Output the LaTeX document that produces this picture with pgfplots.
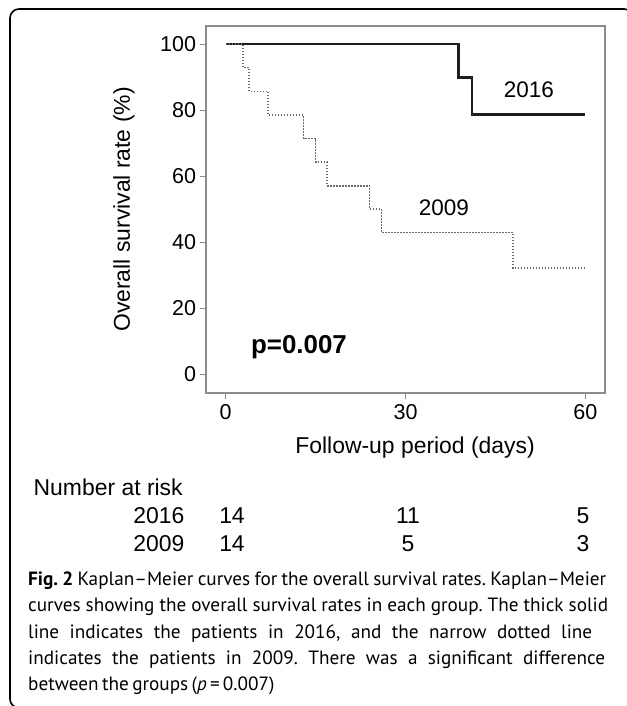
\documentclass[border=0pt]{standalone}
\usepackage{fontspec}
\setmainfont{Liberation Sans}
\newfontfamily\capfont[Ligatures=TeX]{PT Sans}
\usepackage{pgfplots}
\pgfplotsset{compat=1.18}
\frenchspacing
\begin{document}
\begin{tikzpicture}[x=1bp,y=1bp]
\useasboundingbox (0,0) rectangle (627,706);
\begin{scope}
\clip (0,0) rectangle (627,706);
\draw[line width=1.6bp, rounded corners=9bp] (10,-2) rectangle (633,697);
\end{scope}
\begin{axis}[
  at={(206bp,313bp)}, anchor=south west,
  scale only axis, width=399bp, height=367bp,
  xmin=-3.29, xmax=63.29, ymin=-5.67, ymax=105.5,
  xtick={0,30,60}, ytick={0,20,40,60,80,100},
  tick align=outside, tick pos=left,
  major tick length=6.5bp,
  axis line style={draw=black!45, line width=1.2bp},
  tick style={draw=black!45, line width=1.1bp},
  ticklabel style={font=\fontsize{21.6}{24}\selectfont, text=black},
  /pgf/number format/assume math mode=true,
  xticklabel style={yshift=-1bp},
  xlabel={Follow-up period (days)},
  ylabel={Overall survival rate (\%)},
  xlabel style={font=\fontsize{23}{26}\selectfont, anchor=base, inner sep=0pt, at={(rel axis cs:0.524,-0.1662)}},
  ylabel style={font=\fontsize{23}{26}\selectfont, anchor=center, inner sep=0pt, at={(rel axis cs:-0.2055,0.5)}},
]
\addplot[const plot, line width=2.7bp, color=black!88] coordinates {
  (0,100) (38.9,90) (41.1,78.7) (60,78.7)};
\addplot[const plot, line width=1.7bp, color=black!58, dash pattern=on 1.4bp off 1.6bp] coordinates {
  (0,100) (2.9,92.9) (3.9,85.7) (7.1,78.6) (13,71.4) (15,64.3) (16.9,57.1)
  (24,50) (26,42.9) (47.9,32.1) (60,32.1)};
\node[font=\fontsize{22.6}{26}\selectfont, inner sep=0pt] at (axis cs:50.6,86.3) {2016};
\node[font=\fontsize{22.6}{26}\selectfont, inner sep=0pt] at (axis cs:36.4,50.5) {2009};
\node[font=\fontsize{26}{30}\selectfont\bfseries, anchor=base west, inner sep=0pt] at (axis cs:4.2,6.15) {p=0.007};
\end{axis}
\begin{scope}[every node/.style={inner sep=0pt, font=\fontsize{23}{26}\selectfont}]
\node[anchor=base west] at (33.5,210) {Number at risk};
\node[anchor=base east] at (184.5,182) {2016};
\node[anchor=base east] at (184.5,154) {2009};
\node[anchor=base] at (232,182) {14};
\node[anchor=base] at (408,182) {11};
\node[anchor=base] at (583,182) {5};
\node[anchor=base] at (232,154) {14};
\node[anchor=base] at (408,154) {5};
\node[anchor=base] at (583,154) {3};
\end{scope}
\begin{scope}[every node/.style={inner sep=0pt, anchor=base west, font=\capfont\fontsize{19.3}{26}\selectfont}]
\node at (28,120) {\makebox[578bp][s]{\textbf{Fig. 2} Kaplan–Meier curves for the overall survival rates. Kaplan–Meier}};
\node at (28,94) {\makebox[580bp][s]{curves showing the overall survival rates in each group. The thick solid}};
\node at (28,67.7) {\makebox[564bp][s]{line indicates the patients in 2016, and the narrow dotted line}};
\node at (28,41.6) {\makebox[577bp][s]{indicates the patients in 2009. There was a significant difference}};
\node at (28,15.5) {\makebox[210bp][s]{between the groups (\textit{p}\,=\,0.007)}};
\end{scope}
\end{tikzpicture}
\end{document}
